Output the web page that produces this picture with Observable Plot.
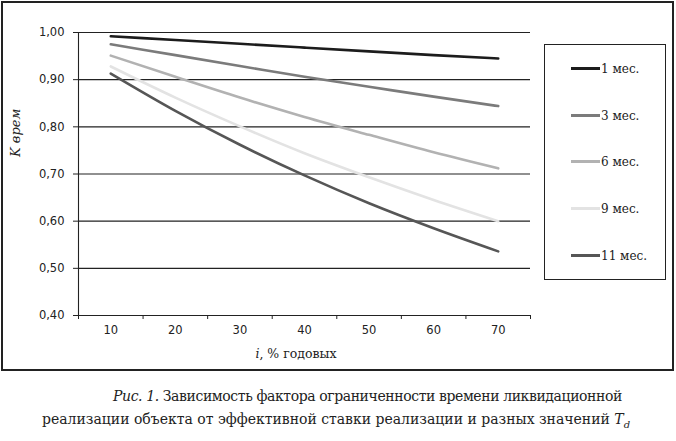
<!DOCTYPE html>
<html>
<head>
<meta charset="utf-8">
<script src="https://cdn.jsdelivr.net/npm/d3@7"></script>
<script src="https://cdn.jsdelivr.net/npm/@observablehq/plot@0.6"></script>
<style>
  html, body { margin: 0; padding: 0; background: #fff; }
  #wrap { position: relative; width: 676px; height: 441px; overflow: hidden; }
  #frame { position: absolute; left: 1px; top: 1px; width: 673px; height: 370px; box-sizing: border-box; border: 2px solid #222; pointer-events: none; }
  #legend { position: absolute; left: 544px; top: 44px; width: 122px; height: 236px; box-sizing: border-box; border: 1.5px solid #222; }
  .item { position: absolute; left: 26px; height: 14px; font: 12px "DejaVu Serif", serif; color: #222; white-space: nowrap; }
  .sw { display: inline-block; width: 29px; height: 3px; vertical-align: middle; margin-right: 1px; position: relative; top: -1px; }
  #xtitle { position: absolute; left: 0; width: 592px; text-align: center; top: 346px; font: 12.5px "DejaVu Serif", serif; color: #222; }
  #caption { position: absolute; left: 0; top: 385px; width: 676px; font: 14px "DejaVu Serif", serif; color: #222; line-height: 23px; }
  #caption .l1 { padding-left: 113px; white-space: nowrap; letter-spacing: -0.4px; }
  #caption .l2 { padding-left: 42px; white-space: nowrap; }
</style>
</head>
<body>
<div id="wrap">
  <div id="chart"></div>
  <div id="frame"></div>
  <div id="legend"></div>
  <div id="xtitle"><i>i</i>, % годовых</div>
  <div id="caption">
    <div class="l1"><i>Рис. 1.</i> Зависимость фактора ограниченности времени ликвидационной</div>
    <div class="l2">реализации объекта от эффективной ставки реализации и разных значений <i>T<sub style="font-size:10px">d</sub></i></div>
  </div>
</div>
<script>
// Ставка, % годовых
const rates = [10, 20, 30, 40, 50, 60, 70];
// Серии (срок реализации)
const seriesNames = ["1 мес.", "3 мес.", "6 мес.", "9 мес.", "11 мес."];
const k1 = [0.992, 0.984, 0.976, 0.968, 0.960, 0.952, 0.945];
const k3 = [0.975, 0.952, 0.929, 0.906, 0.885, 0.864, 0.844];
const k6 = [0.951, 0.906, 0.862, 0.821, 0.783, 0.746, 0.712];
const k9 = [0.928, 0.862, 0.801, 0.744, 0.693, 0.645, 0.600];
const k11 = [0.913, 0.834, 0.762, 0.697, 0.638, 0.585, 0.536];
const seriesValues = [k1, k3, k6, k9, k11];
const seriesColors = ["#1c1c1c", "#7b7b7b", "#b2b2b2", "#e3e3e3", "#565656"];
// Деления осей
const yTicks = [0.4, 0.5, 0.6, 0.7, 0.8, 0.9, 1.0];
const gridY = [0.5, 0.6, 0.7, 0.8, 0.9, 1.0];
const xTickMarks = [5, 15, 25, 35, 45, 55, 65, 75];
const yLabel = "K врем";

const data = [];
seriesNames.forEach((name, si) => {
  rates.forEach((r, i) => data.push({series: name, rate: r, k: seriesValues[si][i]}));
});

const fmt = d => d.toFixed(2).replace(".", ",");

const chart = Plot.plot({
  width: 676,
  height: 370,
  marginLeft: 78,
  marginRight: 146,
  marginTop: 32,
  marginBottom: 55,
  style: {background: "transparent", color: "#222"},
  x: {domain: [5, 75], axis: null},
  y: {domain: [0.4, 1.0], axis: null},
  color: {domain: seriesNames, range: seriesColors},
  marks: [
    Plot.ruleY(gridY, {stroke: "#222", strokeWidth: 1.1}),
    Plot.ruleY([0.4], {stroke: "#222", strokeWidth: 1.1}),
    Plot.ruleX([5], {y1: 0.4, y2: 1.0, stroke: "#222", strokeWidth: 1.1}),
    Plot.axisY({ticks: yTicks, tickFormat: fmt, tickSize: 5, tickPadding: 9, fontSize: 11.5, fontFamily: "DejaVu Sans", label: null, stroke: "#222"}),
    Plot.axisX({ticks: rates, tickFormat: d => String(d), tickSize: 0, tickPadding: 10, fontSize: 11.5, fontFamily: "DejaVu Sans", label: null}),
    Plot.axisX({ticks: xTickMarks, tickFormat: () => "", tickSize: 4, label: null, stroke: "#222"}),
    Plot.line(data, {x: "rate", y: "k", z: "series", stroke: "series", strokeWidth: 2.6, curve: "monotone-x"}),
    Plot.text([yLabel], {frameAnchor: "left", rotate: -90, dx: -63, dy: -17, fontSize: 13, fontFamily: "DejaVu Serif", fontStyle: "italic", fill: "#222"})
  ]
});
document.getElementById("chart").appendChild(chart);

// Легенда
const legend = document.getElementById("legend");
const rowTops = [17, 64, 110, 157, 204];
seriesNames.forEach((name, i) => {
  const it = document.createElement("div");
  it.className = "item";
  it.style.top = rowTops[i] + "px";
  const sw = document.createElement("span");
  sw.className = "sw";
  sw.style.background = seriesColors[i];
  it.appendChild(sw);
  it.appendChild(document.createTextNode(name));
  legend.appendChild(it);
});
</script>
</body>
</html>
